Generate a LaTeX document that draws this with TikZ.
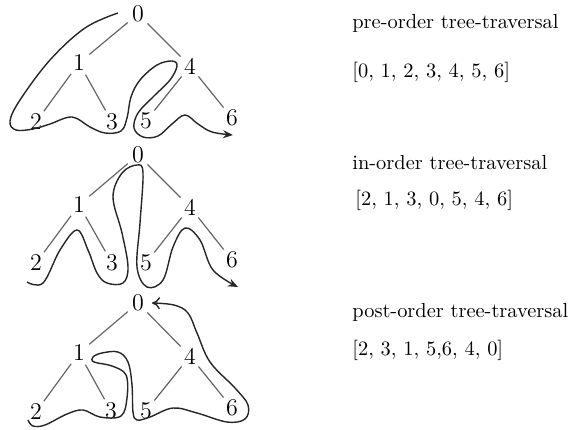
\documentclass[tikz,border=0pt]{standalone}
\usetikzlibrary{arrows.meta}
\begin{document}
\begin{tikzpicture}[x=0.5pt,y=-0.5pt,
  vtx/.style={circle, inner sep=0pt, minimum size=13pt, font=\fontsize{12}{14}\selectfont},
  edge/.style={draw=black!60, line width=0.6pt},
  route/.style={draw=black!85, line width=0.7pt},
  caption/.style={anchor=west, inner sep=0pt, font=\fontsize{10.2}{12}\selectfont}]
\useasboundingbox (0,0) rectangle (572,429);

% --- pre-order tree ---
\node[vtx] (a0) at (138,14) {0};
\node[vtx] (a1) at (79,63) {1};
\node[vtx] (a4) at (190,66) {4};
\node[vtx] (a2) at (36,122) {2};
\node[vtx] (a3) at (112,122) {3};
\node[vtx] (a5) at (146,121) {5};
\node[vtx] (a6) at (232,118) {6};
\draw[edge] (a0) -- (a1); \draw[edge] (a0) -- (a4);
\draw[edge] (a1) -- (a2); \draw[edge] (a1) -- (a3);
\draw[edge] (a4) -- (a5); \draw[edge] (a4) -- (a6);
\draw[route,-{Stealth[length=5pt,width=4pt]}] plot[smooth,tension=0.6] coordinates {
  (118,13) (85,28) (50,60) (20,100) (10,121) (16,130) (33,129) (50,124) (72,117)
  (90,127) (105,133) (121,131) (127,118) (131,97) (140,80) (157,65) (172,61)
  (177,66) (170,80) (153,97) (138,113) (134,128) (143,137) (158,136) (172,124)
  (185,115) (198,124) (212,132) (233,135)};

% --- in-order tree ---
\node[vtx] (b0) at (138,155) {0};
\node[vtx] (b1) at (79,205) {1};
\node[vtx] (b4) at (190,207) {4};
\node[vtx] (b2) at (36,263) {2};
\node[vtx] (b3) at (112,263) {3};
\node[vtx] (b5) at (146,263) {5};
\node[vtx] (b6) at (232,260) {6};
\draw[edge] (b0) -- (b1); \draw[edge] (b0) -- (b4);
\draw[edge] (b1) -- (b2); \draw[edge] (b1) -- (b3);
\draw[edge] (b4) -- (b5); \draw[edge] (b4) -- (b6);
\draw[route,-{Stealth[length=5pt,width=4pt]}] plot[smooth,tension=0.6] coordinates {
  (27,282) (43,283) (60,250) (77,230) (88,250) (97,273) (107,283) (123,283)
  (128,267) (122,233) (113,197) (122,173) (137,165) (143,173) (140,223)
  (137,267) (147,287) (163,280) (173,247) (185,228) (200,240) (213,270) (238,287)};

% --- post-order tree ---
\node[vtx] (c0) at (138,303) {0};
\node[vtx] (c1) at (79,353) {1};
\node[vtx] (c4) at (190,356) {4};
\node[vtx] (c2) at (36,412) {2};
\node[vtx] (c3) at (111,411) {3};
\node[vtx] (c5) at (146,411) {5};
\node[vtx] (c6) at (232,408) {6};
\draw[edge] (c0) -- (c1); \draw[edge] (c0) -- (c4);
\draw[edge] (c1) -- (c2); \draw[edge] (c1) -- (c3);
\draw[edge] (c4) -- (c5); \draw[edge] (c4) -- (c6);
\draw[route,-{To[length=4pt,width=6pt]}] plot[smooth,tension=0.6] coordinates {
  (28,420) (33,426) (45,425) (67,414) (83,410) (100,417) (121,416) (127,398)
  (126,375) (112,366) (94,362) (93,357) (102,353) (118,352) (128,362) (132,385)
  (133,412) (137,420) (150,417) (173,408) (197,413) (227,422) (245,419)
  (248,405) (235,388) (210,362) (197,333) (188,313) (174,305) (152,303)};

% --- captions ---
\node[caption] (t1) at (352,23) {pre-order tree-traversal};
\node[caption] (l1) at (352,72) {[0, 1, 2, 3, 4, 5, 6]};
\node[caption] (t2) at (352,163) {in-order tree-traversal};
\node[caption] (l2) at (355,200) {[2, 1, 3, 0, 5, 4, 6]};
\node[caption] (t3) at (352,312) {post-order tree-traversal};
\node[caption] (l3) at (352,350) {[2, 3, 1, 5,6, 4, 0]};
\end{tikzpicture}
\end{document}
